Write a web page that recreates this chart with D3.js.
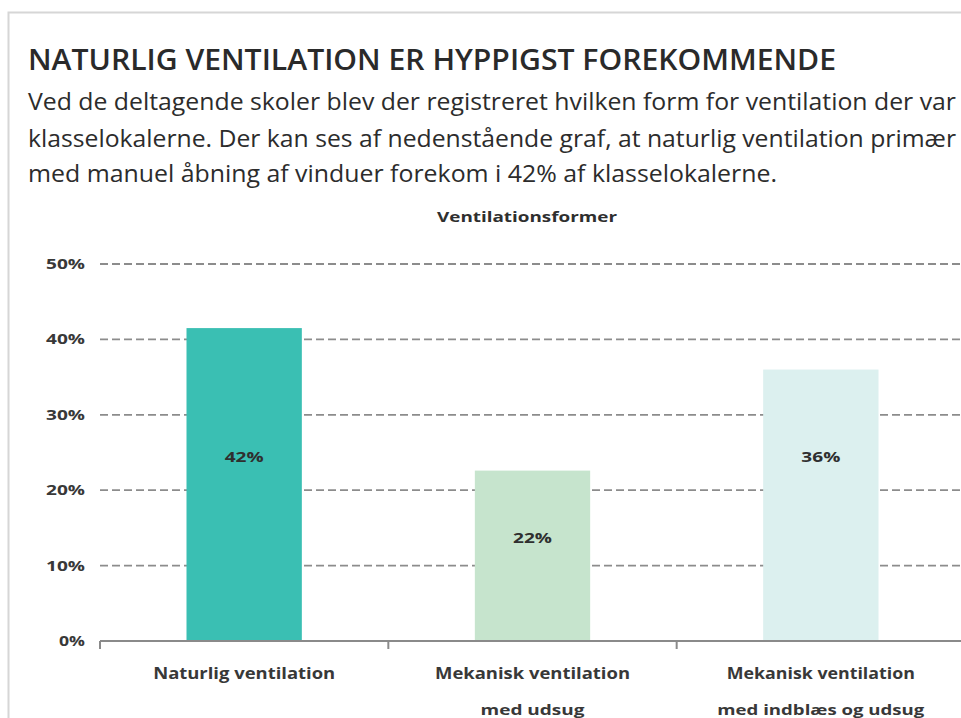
<!DOCTYPE html>
<html>
<head>
<meta charset="utf-8">
<script src="https://cdn.jsdelivr.net/npm/d3@7"></script>
<style>
  html, body { margin: 0; padding: 0; background: #fff; overflow: hidden; }
  svg { display: block; }
</style>
</head>
<body>
<svg id="chart" width="961" height="718"></svg>
<script>
// ---- data ----
const title = "NATURLIG VENTILATION ER HYPPIGST FOREKOMMENDE";
const subtitleLines = [
  "Ved de deltagende skoler blev der registreret hvilken form for ventilation der var",
  "klasselokalerne. Der kan ses af nedenstående graf, at naturlig ventilation primær",
  "med manuel åbning af vinduer forekom i 42% af klasselokalerne."
];
const chartTitle = "Ventilationsformer";
const categories = ["Naturlig ventilation", "Mekanisk ventilation med udsug", "Mekanisk ventilation med indblæs og udsug"];
const categoryLines = [
  ["Naturlig ventilation"],
  ["Mekanisk ventilation", "med udsug"],
  ["Mekanisk ventilation", "med indblæs og udsug"]
];
const values = [41.5, 22.6, 36.0];
const valueLabels = ["42%", "22%", "36%"];
const yTicks = [0, 10, 20, 30, 40, 50];
const barColors = ["#3abfb3", "#c6e4cd", "#dcf0ef"];

// ---- layout (not data) ----
const svg = d3.select("#chart");
const W = 961, H = 718;
const plot = { left: 100, right: 965, top: 264, bottom: 641 };
const textColor = "#2f2f2f";
const labelColor = "#383838";
const FONT = "'Open Sans', sans-serif";
// vertical level (in axis units) where the reference places each value label
const labelLevels = [24.6, 13.8, 24.6];
// rendered widths of the category label lines in the reference
const catLineWidths = [[182], [195, 104], [188, 207]];

// card frame
svg.append("rect").attr("x", 8.5).attr("y", 12.5).attr("width", W + 20).attr("height", H + 20)
  .attr("fill", "#fff").attr("stroke", "#d6d6d6").attr("stroke-width", 2);

// title
svg.append("text").attr("x", 28).attr("y", 70)
  .attr("font-family", FONT).attr("font-weight", 600)
  .attr("font-size", 28).attr("fill", "#2a2a2a")
  .attr("textLength", 808).attr("lengthAdjust", "spacingAndGlyphs")
  .text(title);

const subLens = [928, 928, 749];
const subY = [110, 147, 182];
subtitleLines.forEach((t, i) => {
  svg.append("text").attr("x", 28).attr("y", subY[i])
    .attr("font-family", FONT).attr("font-size", 23)
    .attr("fill", "#2c2c2c")
    .attr("textLength", subLens[i]).attr("lengthAdjust", "spacingAndGlyphs")
    .text(t);
});

// chart title
svg.append("text").attr("x", 527).attr("y", 222).attr("text-anchor", "middle")
  .attr("font-family", FONT).attr("font-weight", 700)
  .attr("font-size", 15).attr("fill", textColor)
  .attr("textLength", 180).attr("lengthAdjust", "spacingAndGlyphs")
  .text(chartTitle);

// scales
const x = d3.scaleBand().domain(categories).range([plot.left, plot.right])
  .paddingInner(0.6).paddingOuter(0.3);
const y = d3.scaleLinear().domain([0, 50]).range([plot.bottom, plot.top]);

// gridlines
svg.append("g").selectAll("line").data(yTicks.filter(d => d > 0)).join("line")
  .attr("x1", plot.left).attr("x2", W)
  .attr("y1", d => y(d)).attr("y2", d => y(d))
  .attr("stroke", "#8c8c8c").attr("stroke-width", 1.8)
  .attr("stroke-dasharray", "8,4");

// y labels
svg.append("g").selectAll("text").data(yTicks).join("text")
  .attr("x", 85).attr("y", d => y(d) + 5).attr("text-anchor", "end")
  .attr("font-family", FONT).attr("font-weight", 700)
  .attr("font-size", 15).attr("fill", labelColor)
  .attr("textLength", d => d === 0 ? 26 : 39).attr("lengthAdjust", "spacingAndGlyphs")
  .text(d => d + "%");

// bars
svg.append("g").selectAll("rect").data(values).join("rect")
  .attr("x", (d, i) => x(categories[i]))
  .attr("width", x.bandwidth())
  .attr("y", d => y(d))
  .attr("height", d => y(0) - y(d))
  .attr("fill", (d, i) => barColors[i]);

// value labels
svg.append("g").selectAll("text").data(values).join("text")
  .attr("x", (d, i) => x(categories[i]) + x.bandwidth() / 2)
  .attr("y", (d, i) => y(labelLevels[i]) + 6)
  .attr("text-anchor", "middle")
  .attr("font-family", FONT).attr("font-weight", 700)
  .attr("font-size", 15).attr("fill", textColor)
  .attr("textLength", 39).attr("lengthAdjust", "spacingAndGlyphs")
  .text((d, i) => valueLabels[i]);

// x axis
const step = x.step();
const axis = svg.append("g");
axis.append("line").attr("x1", plot.left).attr("x2", W)
  .attr("y1", plot.bottom).attr("y2", plot.bottom)
  .attr("stroke", "#8a8a8a").attr("stroke-width", 2);
const tickXs = categories.map(c => x(c) + x.bandwidth() / 2 - step / 2);
axis.selectAll("line.tick").data(tickXs).join("line").attr("class", "tick")
  .attr("x1", d => d).attr("x2", d => d)
  .attr("y1", plot.bottom).attr("y2", plot.bottom + 8)
  .attr("stroke", "#8a8a8a").attr("stroke-width", 2);

const xl = svg.append("g");
categories.forEach((c, i) => {
  const cx = x(c) + x.bandwidth() / 2;
  categoryLines[i].forEach((line, j) => {
    xl.append("text").attr("x", cx).attr("y", j === 0 ? 679 : 715)
      .attr("text-anchor", "middle")
      .attr("font-family", FONT).attr("font-weight", 700)
      .attr("font-size", j === 0 ? 16 : 15).attr("fill", labelColor)
      .attr("textLength", catLineWidths[i][j]).attr("lengthAdjust", "spacingAndGlyphs")
      .text(line);
  });
});
</script>
</body>
</html>
